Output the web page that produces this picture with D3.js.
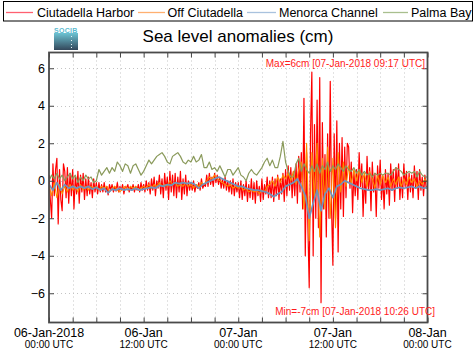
<!DOCTYPE html>
<html>
<head>
<meta charset="utf-8">
<script src="https://cdn.jsdelivr.net/npm/d3@7"></script>
<style>
  html, body { margin: 0; padding: 0; background: #fff; }
  svg { display: block; font-family: "Liberation Sans", Arial, Helvetica, sans-serif; }
</style>
</head>
<body>
<svg id="chart" width="476" height="359"></svg>
<script>
// ---------------- DATA ----------------
const startTime = Date.UTC(2018, 0, 6, 0, 0);
const seriesNames = ["Ciutadella Harbor", "Off Ciutadella", "Menorca Channel", "Palma Bay"];
const yTicks = [-6, -4, -2, 0, 2, 4, 6];
const xLabelHours = [0, 12, 24, 36, 48];
const xLabelDates = ["06-Jan-2018", "06-Jan", "07-Jan", "07-Jan", "08-Jan"];
const xLabelTimes = ["00:00 UTC", "12:00 UTC", "00:00 UTC", "12:00 UTC", "00:00 UTC"];
const titleText = "Sea level anomalies (cm)";
const maxText = "Max=6cm [07-Jan-2018 09:17 UTC]";
const minText = "Min=-7cm [07-Jan-2018 10:26 UTC]";

// Ciutadella Harbor, 10-minute samples (cm)
const harborStep = 10;
const harborValues = [
  0.3,-1.0,-2.0,0.9,-0.8,0.6,
  1.2,-2.3,0.6,-1.0,-1.6,0.9,
  0.5,-0.9,0.7,-1.2,0.4,-0.8,
  0.6,-1.5,0.2,-0.7,0.5,-1.2,
  0.3,-0.6,0.4,-1.0,0.1,-0.8,
  0.2,-0.7,-0.1,-0.9,0.1,-0.6,
  -0.1,-0.7,-0.1,-0.6,-0.2,-0.6,
  -0.1,-0.6,-0.3,-0.75,-0.2,-0.5,
  -0.2,-0.6,-0.3,-0.55,-0.1,-0.6,
  -0.3,-0.5,-0.2,-0.7,-0.3,-0.4,
  -0.2,-0.6,-0.3,-0.5,-0.2,-0.6,
  -0.3,-0.5,-0.2,-0.6,-0.1,-0.5,
  -0.2,-0.6,0.0,-0.5,-0.1,-0.7,
  0.1,-0.5,0.2,-0.8,0.0,-0.4,
  0.3,-0.7,0.1,-0.9,0.4,-0.5,
  0.2,-1.0,0.5,-0.6,0.3,-0.8,
  0.4,-0.9,0.2,-0.6,0.5,-1.0,
  0.1,-0.7,0.3,-0.8,0.0,-0.5,
  -0.1,-0.5,0.0,-0.6,-0.2,-0.4,
  -0.1,-0.5,0.1,-0.4,-0.2,-0.3,
  0.3,-0.3,0.4,-0.2,0.2,-0.3,
  0.4,-0.1,0.3,-0.2,0.2,-0.4,
  0.1,-0.4,0.2,-0.5,0.0,-0.6,
  0.0,-0.7,0.1,-0.8,-0.1,-0.6,
  -0.1,-0.9,0.0,-1.0,-0.2,-0.8,
  0.0,-1.1,-0.2,-0.9,0.1,-1.0,
  -0.1,-1.2,0.0,-0.8,-0.3,-1.1,
  0.1,-1.0,-0.2,-0.7,0.2,-0.9,
  0.0,-0.9,0.2,-1.1,0.1,-0.8,
  0.3,-1.0,0.1,-0.7,0.4,-1.1,
  0.6,-0.8,0.8,-0.5,0.7,-0.9,
  0.5,-0.8,0.9,-1.2,1.3,-0.6,
  1.5,-1.5,4.4,-4.0,1.5,-2.5,
  -5.7,2.5,5.8,-4.0,3.0,-2.0,
  4.3,-2.5,5.5,-6.5,3.1,-1.5,
  1.4,-3.0,2.5,-2.0,5.3,-1.5,
  -4.5,2.5,-2.0,3.2,-3.8,2.0,
  -1.5,2.3,-1.9,1.8,-0.9,2.0,
  1.8,-0.4,1.0,-1.7,0.5,-0.8,
  0.6,-1.0,1.5,-0.3,0.9,-1.9,
  0.3,-1.2,1.3,-0.5,0.7,-1.6,
  1.0,-0.6,0.4,-1.9,0.8,-0.4,
  1.1,-1.0,0.2,-1.5,0.6,-0.7,
  0.4,-1.3,0.9,-0.5,0.6,-1.1,
  0.7,-0.4,0.9,-1.0,0.2,-0.9,
  0.9,-0.3,0.5,-1.0,0.4,-0.6,
  0.3,-0.9,0.8,-0.4,0.5,-1.0,
  0.6,-0.5,0.2,-0.8,0.3,-0.4,
  -0.3
];

// Off Ciutadella, 20-minute samples (cm)
const offStep = 20;
const offValues = [
  -0.3,-0.8,-0.1, -0.9,-0.2,-0.7, -0.3,-0.6,-0.2, -0.5,-0.3,-0.6,
  -0.2,-0.5,-0.3, -0.5,-0.3,-0.4, -0.3,-0.5,-0.3, -0.4,-0.3,-0.6,
  -0.4,-0.3,-0.5, -0.6,-0.4,-0.3, -0.5,-0.3,-0.4, -0.3,-0.5,-0.4,
  -0.3,-0.4,-0.2, -0.4,-0.2,-0.3, -0.1,-0.3,-0.2, -0.3,0.0,-0.2,
  -0.1,-0.3,-0.2, -0.3,-0.1,-0.3, -0.2,-0.4,-0.2, -0.3,-0.1,-0.2,
  0.0,0.2,0.1, 0.3,0.1,0.0, -0.1,-0.2,-0.3, -0.2,-0.4,-0.3,
  -0.4,-0.3,-0.5, -0.4,-0.6,-0.5, -0.6,-0.5,-0.7, -0.5,-0.6,-0.3,
  -0.2,0.0,-0.3, 0.2,-0.1,0.3, 0.1,0.4,0.0, 0.5,-0.2,0.6,
  1.0,-1.5,2.0, -3.2,1.5,-1.0, 2.0,-3.0,1.2, -1.5,1.8,-2.0,
  1.2,-2.5,1.5, -0.6,1.0,-0.3, 0.8,-0.2,0.6, 0.0,0.6,-0.1,
  0.4,-0.3,0.5, 0.1,-0.4,0.3, -0.2,0.3,-0.1, 0.2,-0.3,0.1,
  -0.2,0.2,-0.3, 0.1,-0.2,0.2, -0.1,0.1,-0.3, 0.0,-0.2,0.1,
  -0.1
];

// Menorca Channel, 30-minute samples (cm)
const channelStep = 30;
const channelValues = [
  -0.2,-0.5, -0.1,-0.5, -0.2,-0.4, -0.3,-0.4, -0.3,-0.4, -0.3,-0.45,
  -0.35,-0.5, -0.4,-0.65, -0.45,-0.5, -0.4,-0.5, -0.45,-0.5, -0.4,-0.5,
  -0.45,-0.4, -0.35,-0.4, -0.25,-0.3, -0.2,-0.25, -0.1,-0.15, -0.1,-0.15,
  -0.1,-0.2, -0.4,-0.2, -0.1,0.0, 0.1,0.2, 0.1,0.0, -0.1,-0.2,
  -0.3,-0.3, -0.4,-0.45, -0.5,-0.5, -0.55,-0.6, -0.7,-0.85, -0.7,-0.6,
  -0.3,-0.2, -0.1,0.1, -0.3,-0.8, -2.0,-1.2, -0.5,-1.6, -0.7,-0.4,
  -0.9,-0.3, -0.2,0.0, -0.1,-0.2, -0.3,-0.4, -0.45,-0.5, -0.5,-0.45,
  -0.5,-0.45, -0.4,-0.5, -0.4,-0.35, -0.4,-0.35, -0.3,-0.4, -0.3,-0.4,
  -0.35
];

// Palma Bay, 20-minute samples (cm)
const palmaStep = 20;
const palmaValues = [
  0.0,0.3,0.1, 0.4,0.1,0.3, 0.0,0.2,0.4, 0.1,0.3,-0.1,
  0.2,0.0,0.3, 0.1,0.2,-0.1, 0.0,0.6,0.3, 0.5,0.7,0.4,
  0.7,0.5,1.0, 0.8,0.5,0.9, 0.8,0.4,0.8, 0.9,0.6,0.3,
  0.5,0.8,1.1, 0.9,1.1,1.3, 1.4,1.5,1.3, 1.0,0.9,1.3,
  1.4,1.5,1.3, 1.0,0.9,1.1, 1.0,1.3,1.0, 1.1,1.4,0.7,
  0.7,1.0,0.6, 0.7,0.5,0.8, 0.5,0.2,0.6, 0.6,0.3,0.5,
  0.7,0.3,0.2, 0.0,0.4,0.6, 0.4,0.3,0.5, 0.7,1.0,1.2,
  0.8,1.1,0.7, 0.7,1.3,2.1, 1.0,0.5,0.2, 0.2,0.9,1.2,
  0.5,0.9,0.6, 0.4,0.8,0.5, 0.9,0.4,0.8, 0.6,1.0,0.5,
  0.8,0.6,0.9, 0.7,0.5,0.8, 0.6,0.5,0.7, 0.4,0.6,0.3,
  0.5,0.3,0.4, 0.2,0.4,0.3, 0.4,0.3,0.4, 0.4,0.3,0.5,
  0.7,0.6,0.5, 0.3,0.4,0.5, 0.4,0.5,0.2, 0.5,0.3,0.2,
  0.2
];

const plotColors = ["#ff0000", "#ff8a00", "#7093bb", "#8a9a5b"];
const legendColors = ["#ff6070", "#ffb070", "#a9c2de", "#a9bf8e"];

// ---------------- CHART ----------------
const svg = d3.select("#chart");
const W = 476, H = 359;
const m = { left: 49, right: 427.5, top: 52.5, bottom: 322.5 };

const toSeries = (vals, step) => vals.map((v, i) => ({ t: new Date(startTime + i * step * 60000), v }));
const allSeries = [
  { name: seriesNames[0], data: toSeries(harborValues, harborStep), color: plotColors[0], w: 1.2 },
  { name: seriesNames[1], data: toSeries(offValues, offStep), color: plotColors[1], w: 1.1 },
  { name: seriesNames[3], data: toSeries(palmaValues, palmaStep), color: plotColors[3], w: 1.2 },
  { name: seriesNames[2], data: toSeries(channelValues, channelStep), color: plotColors[2], w: 1.7 }
];

const x = d3.scaleUtc()
  .domain([new Date(startTime), new Date(startTime + 48 * 3600000)])
  .range([m.left, m.right]);
const y = d3.scaleLinear().domain([-7.56, 6.84]).range([m.bottom, m.top]);

svg.append("rect").attr("width", W).attr("height", H).attr("fill", "#fff");

// grid
const gridHours = d3.range(3, 48, 3).map(h => new Date(startTime + h * 3600000));
const grid = svg.append("g").attr("stroke", "#c4c4c4").attr("stroke-width", 1).attr("stroke-dasharray", "1,3");
grid.selectAll("line.v").data(gridHours).join("line")
  .attr("x1", d => Math.round(x(d)) + 0.5).attr("x2", d => Math.round(x(d)) + 0.5)
  .attr("y1", m.top).attr("y2", m.bottom);
grid.selectAll("line.h").data(yTicks).join("line")
  .attr("y1", d => Math.round(y(d)) + 0.5).attr("y2", d => Math.round(y(d)) + 0.5)
  .attr("x1", m.left).attr("x2", m.right);

// clip
svg.append("clipPath").attr("id", "clip").append("rect")
  .attr("x", m.left).attr("y", m.top).attr("width", m.right - m.left).attr("height", m.bottom - m.top);

const line = d3.line().x(d => x(d.t)).y(d => y(d.v));
svg.append("g").attr("clip-path", "url(#clip)")
  .selectAll("path").data(allSeries).join("path")
  .attr("d", d => line(d.data))
  .attr("fill", "none")
  .attr("stroke", d => d.color)
  .attr("stroke-width", d => d.w)
  .attr("stroke-linejoin", "round");

// axes (inward ticks)
const tickHours = d3.range(0, 49, 3).map(h => new Date(startTime + h * 3600000));
function styleAxis(g) {
  g.select(".domain").remove();
  g.selectAll(".tick line").attr("stroke", "#444").attr("stroke-width", 1);
}
svg.append("g").attr("transform", `translate(0,${m.bottom})`)
  .call(d3.axisBottom(x).tickValues(tickHours).tickSize(-5).tickFormat(""))
  .call(styleAxis);
svg.append("g").attr("transform", `translate(0,${m.top})`)
  .call(d3.axisTop(x).tickValues(tickHours).tickSize(-5).tickFormat(""))
  .call(styleAxis);
svg.append("g").attr("transform", `translate(${m.right},0)`)
  .call(d3.axisRight(y).tickValues(yTicks).tickSize(-5).tickFormat(""))
  .call(styleAxis);
const yAx = svg.append("g").attr("transform", `translate(${m.left},0)`)
  .call(d3.axisLeft(y).tickValues(yTicks).tickSize(-5).tickPadding(4).tickFormat(d3.format("d")))
  .call(styleAxis);
yAx.selectAll(".tick text").attr("font-size", 12.5).attr("fill", "#000")
  .attr("font-family", "'Liberation Sans', Arial, sans-serif");

// frame
svg.append("rect").attr("x", m.left).attr("y", m.top)
  .attr("width", m.right - m.left).attr("height", m.bottom - m.top)
  .attr("fill", "none").attr("stroke", "#4a4a4a").attr("stroke-width", 1.8);

// x labels
const xl = svg.append("g");
xLabelHours.forEach((h, i) => {
  const xx = x(new Date(startTime + h * 3600000));
  xl.append("text").attr("x", xx).attr("y", 337).attr("text-anchor", "middle")
    .attr("font-size", 12.5).attr("fill", "#000").text(xLabelDates[i]);
  xl.append("text").attr("x", xx).attr("y", 347.5).attr("text-anchor", "middle")
    .attr("font-size", 10).attr("fill", "#000").text(xLabelTimes[i]);
});

// max / min annotations
svg.append("text").attr("x", 425).attr("y", 67).attr("text-anchor", "end")
  .attr("font-size", 10).attr("fill", "#ff1a1a").text(maxText);
svg.append("text").attr("x", 435).attr("y", 315).attr("text-anchor", "end")
  .attr("font-size", 10).attr("fill", "#ff1a1a").text(minText);

// title
svg.append("text").attr("x", 238).attr("y", 42).attr("text-anchor", "middle")
  .attr("font-size", 17).attr("fill", "#000").text(titleText);

// logo
const defs = svg.append("defs");
const grad = defs.append("linearGradient").attr("id", "logoGrad").attr("x1", 0).attr("y1", 0).attr("x2", 0).attr("y2", 1);
grad.append("stop").attr("offset", "0%").attr("stop-color", "#6cc3d3");
grad.append("stop").attr("offset", "100%").attr("stop-color", "#33475a");
svg.append("text").attr("x", 54).attr("y", 32.5).attr("font-size", 7).attr("font-weight", "bold")
  .attr("fill", "#5bbad0").attr("letter-spacing", 0.3).text("SOCIB");
svg.append("rect").attr("x", 54).attr("y", 33).attr("width", 24).attr("height", 17).attr("fill", "url(#logoGrad)");
svg.selectAll("rect.dot").data([36, 40, 44, 47]).join("rect").attr("class", "dot")
  .attr("x", 71).attr("y", d => d).attr("width", 1).attr("height", 1).attr("fill", "#e8f4f6");

// legend
svg.append("rect").attr("x", 3.5).attr("y", 1.5).attr("width", 469).attr("height", 19.5)
  .attr("fill", "#fff").attr("stroke", "#000").attr("stroke-width", 1);
const legendPos = [
  { x1: 6, x2: 33, tx: 37 },
  { x1: 138, x2: 165, tx: 167.5 },
  { x1: 247, x2: 276, tx: 279 },
  { x1: 383, x2: 408, tx: 411 }
];
seriesNames.forEach((n, i) => {
  const p = legendPos[i];
  svg.append("line").attr("x1", p.x1).attr("x2", p.x2).attr("y1", 12.5).attr("y2", 12.5)
    .attr("stroke", legendColors[i]).attr("stroke-width", 1.3);
  svg.append("text").attr("x", p.tx).attr("y", 17).attr("font-size", 12.5).attr("fill", "#000").text(n);
});
</script>
</body>
</html>
